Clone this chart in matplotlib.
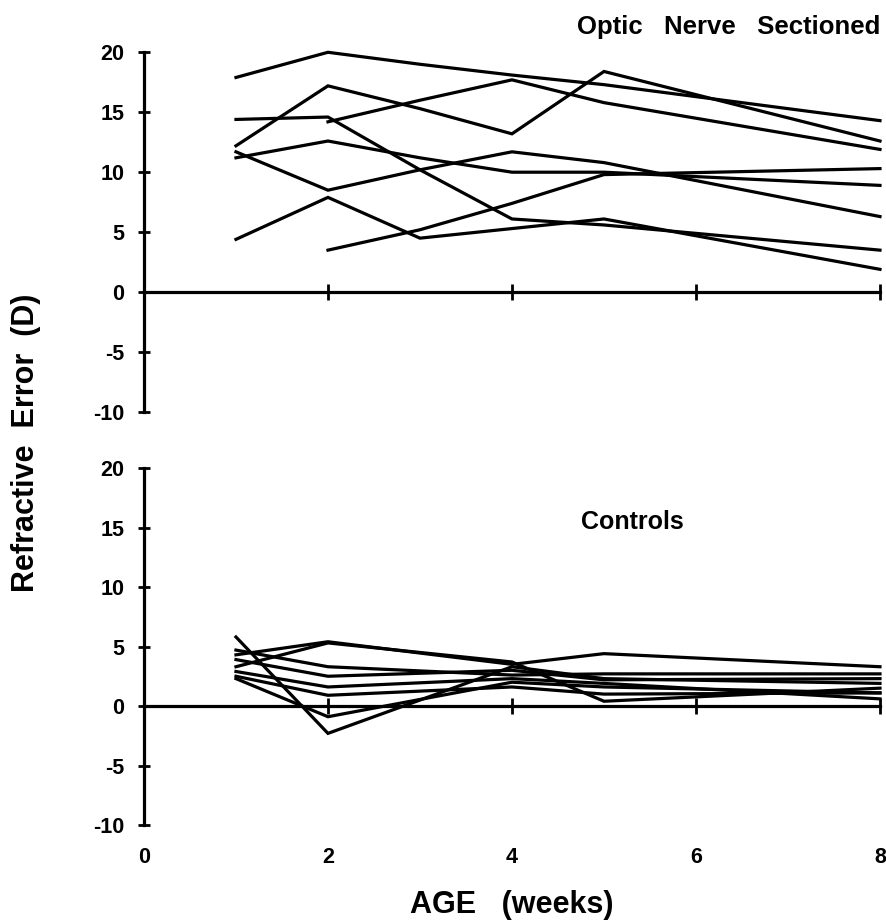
"""Refractive error vs age: optic nerve sectioned eyes and controls."""

import matplotlib

matplotlib.use("Agg")

import matplotlib.pyplot as plt

AGE_TICKS = [0, 2, 4, 6, 8]
Y_TICKS = [-10, -5, 0, 5, 10, 15, 20]

# Optic nerve sectioned eyes (D), one list per eye
ONS_AGES = [
    [1, 2, 3, 4, 5, 8],
    [1, 2, 3, 4, 5, 8],
    [2, 3, 4, 5, 8],
    [1, 2, 3, 4, 5, 8],
    [1, 2, 3, 4, 5, 8],
    [1, 2, 3, 4, 5, 8],
    [1, 2, 3, 4, 5, 8],
    [2, 3, 4, 5, 8],
]
ONS_VALUES = [
    [17.9, 20.0, 19.0, 18.1, 17.3, 14.3],
    [12.2, 17.2, 15.3, 13.2, 18.4, 12.6],
    [14.2, 16.0, 17.7, 15.8, 11.9],
    [14.4, 14.6, 10.2, 6.1, 5.6, 3.5],
    [11.2, 12.6, 11.2, 10.0, 10.0, 8.9],
    [11.7, 8.5, 10.2, 11.7, 10.8, 6.3],
    [4.4, 7.9, 4.5, 5.3, 6.1, 1.9],
    [3.5, 5.2, 7.4, 9.8, 10.3],
]

# Control eyes (D)
CTRL_AGES = [1, 2, 4, 5, 8]
CTRL_VALUES = [
    [5.8, -2.3, 3.3, 2.3, 1.9],
    [2.3, -0.9, 2.0, 1.6, 1.1],
    [4.3, 5.4, 3.5, 4.4, 3.3],
    [3.3, 5.3, 3.7, 0.4, 1.5],
    [4.7, 3.3, 2.6, 2.7, 2.7],
    [3.9, 2.5, 3.0, 2.2, 2.3],
    [2.9, 1.6, 2.3, 1.9, 0.6],
    [2.5, 0.9, 1.6, 1.0, 1.1],
]

plt.rcParams.update({
    "font.family": ["Liberation Sans", "DejaVu Sans"],
    "font.weight": "bold",
})

LW = 2.3
TICK_FS = 15.5

fig = plt.figure(figsize=(8.86, 9.22), dpi=100, facecolor="white")
ax_top = fig.add_axes([0.1625, 0.5531, 0.8307, 0.3902])
ax_bot = fig.add_axes([0.1625, 0.1052, 0.8307, 0.3872])


def style_axis(ax):
    ax.set_xlim(0, 8)
    ax.set_ylim(-10, 20)
    for side in ("top", "right"):
        ax.spines[side].set_visible(False)
    ax.spines["bottom"].set_position(("data", 0))
    ax.spines["bottom"].set_linewidth(LW)
    ax.spines["left"].set_linewidth(LW)
    ax.set_yticks(Y_TICKS)
    ax.set_yticklabels([str(v) for v in Y_TICKS], fontsize=TICK_FS, fontweight="bold")
    ax.set_xticks(AGE_TICKS[1:])
    ax.set_xticklabels([])
    ax.tick_params(axis="y", direction="inout", length=8, width=2, pad=10)
    ax.tick_params(axis="x", direction="inout", length=11, width=2)


style_axis(ax_top)
style_axis(ax_bot)

for ages, values in zip(ONS_AGES, ONS_VALUES):
    ax_top.plot(ages, values, color="black", lw=LW, clip_on=False,
                solid_joinstyle="miter")

for values in CTRL_VALUES:
    ax_bot.plot(CTRL_AGES, values, color="black", lw=LW, clip_on=False,
                solid_joinstyle="miter")

# x tick labels sit below the lower panel
for age in AGE_TICKS:
    ax_bot.text(age, -0.09, str(age), transform=ax_bot.get_xaxis_transform(),
                ha="center", va="center", fontsize=TICK_FS, fontweight="bold")

ax_bot.text(0.5, -0.225, "AGE   (weeks)", transform=ax_bot.transAxes,
            ha="center", va="center", fontsize=22, fontweight="bold")
ax_top.text(1.0, 1.07, "Optic   Nerve   Sectioned", transform=ax_top.transAxes,
            ha="right", va="center", fontsize=18.5, fontweight="bold")
ax_bot.text(0.663, 0.849, "Controls", transform=ax_bot.transAxes,
            ha="center", va="center", fontsize=18, fontweight="bold")
fig.text(0.029, 0.5195, "Refractive  Error  (D)", rotation=90,
         ha="center", va="center", fontsize=22, fontweight="bold")

fig.savefig("out.png", dpi=100, facecolor="white")
